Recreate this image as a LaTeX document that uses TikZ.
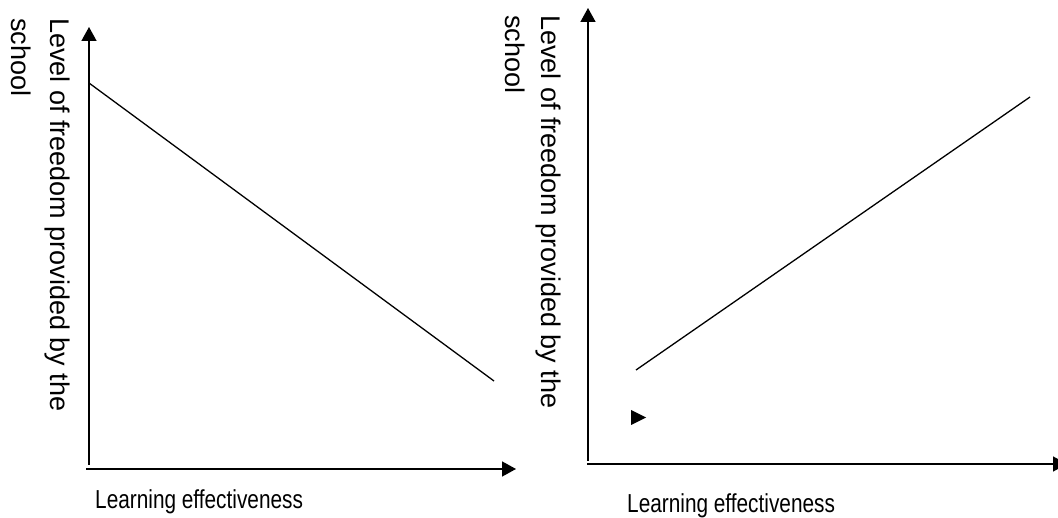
\documentclass[tikz,border=0pt]{standalone}
\usepackage{fontspec}
\setmainfont{Liberation Sans}
\usetikzlibrary{arrows.meta}
\newcommand{\narrowtext}[1]{\scalebox{0.8}[1]{#1}}

\begin{document}
\begin{tikzpicture}[x=1pt,y=-1pt,
  axis/.style={line width=1.6pt,-{Triangle[length=14pt,width=15pt]}},
  trend/.style={line width=1.3pt},
  vlabel/.style={rotate=-90,anchor=base west,inner sep=0pt,font=\fontsize{27}{32}\selectfont},
  hlabel/.style={anchor=base west,inner sep=0pt,font=\fontsize{26}{30}\selectfont}]
\useasboundingbox (0,0) rectangle (1058,518);
% left graph
\draw[axis] (89,465) -- (89,27);
\draw[axis] (86,469) -- (516,469);
\draw[trend] (89,83) -- (494,381);
\node[vlabel] (ylabA) at (50,18) {Level of freedom provided by the};
\node[vlabel] (ylabA2) at (12,18) {school};
\node[hlabel] (xlabA) at (95,508) {\narrowtext{Learning effectiveness}};
% right graph
\draw[axis] (588,461) -- (588,8);
\draw[axis] (587,464) -- (1067,464);
\draw[trend] (636,370) -- (1030,97);
\fill (631,410) -- (646,417.5) -- (631,425) -- cycle;
\node[vlabel] (ylabB) at (541,15) {Level of freedom provided by the};
\node[vlabel] (ylabB2) at (505,15) {school};
\node[hlabel] (xlabB) at (627,512) {\narrowtext{Learning effectiveness}};
\end{tikzpicture}
\end{document}
